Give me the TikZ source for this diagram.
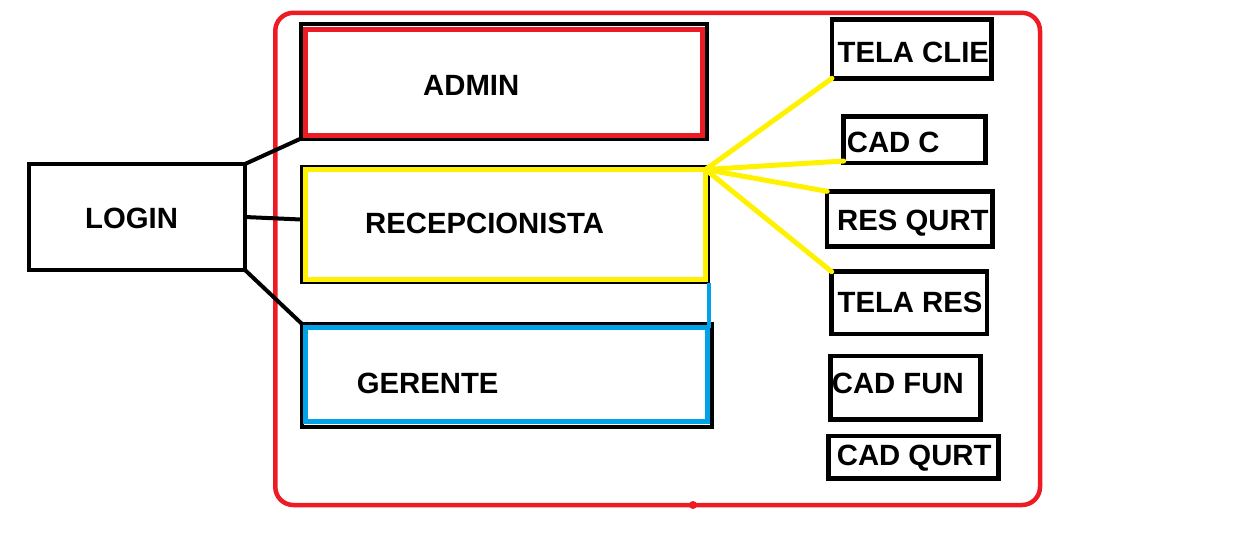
\documentclass[tikz,border=0pt]{standalone}
\usepackage{fontspec}
\setmainfont{Liberation Sans}
\begin{document}
\begin{tikzpicture}[x=1pt,y=-1pt,
  box/.style={draw,rectangle,inner sep=0pt,outer sep=0pt,minimum width=#1},
  lbl/.style={anchor=base west,inner sep=0pt,font=\fontsize{29.3}{31}\selectfont\bfseries},
  link/.style={line width=4pt},
  ylink/.style={draw=pyellow,line width=5pt}]
\definecolor{pred}{HTML}{ED1C24}
\definecolor{pyellow}{HTML}{FFF200}
\definecolor{pblue}{HTML}{00A2E8}
\useasboundingbox (0,0) rectangle (1253,555);
% outer frame
\draw[pred,line width=4.5pt,rounded corners=18pt] (275.3,12.8) rectangle (1040,505);
\fill[pred] (693,505) circle (4pt);
% login
\node[box=216pt,minimum height=106pt,line width=4pt] (login) at (137,217) {};
\node[lbl] (tlogin) at (85,228) {LOGIN};
% admin
\node[box=405.5pt,minimum height=114.5pt,line width=4pt] (adminK) at (503.75,81.25) {};
\node[box=397pt,minimum height=106pt,line width=5pt,draw=pred] (adminR) at (504,82) {};
\node[lbl] (tadmin) at (423,95) {ADMIN};
% recepcionista
\node[box=407pt,minimum height=116pt,line width=3pt] (recepK) at (504.5,224.5) {};
\node[box=400pt,minimum height=109.5pt,line width=5pt,draw=pyellow] (recepY) at (505.5,224.25) {};
\node[lbl] (trecep) at (365,233) {RECEPCIONISTA};
% gerente
\node[box=410pt,minimum height=103.5pt,line width=4pt] (gerK) at (506.5,375.25) {};
\node[box=402pt,minimum height=94pt,line width=5pt,draw=pblue] (gerB) at (506.5,374.5) {};
\node[lbl] (tger) at (356.7,393) {GERENTE};
% right boxes
\tikzset{sbox/.style={draw,rectangle,inner sep=0pt,outer sep=0pt,line width=4.5pt}}
\node[sbox,minimum width=159.3pt,minimum height=58.8pt] (telaclie) at (911.65,48.9) {};
\node[lbl] (ttelaclie) at (837.4,62) {TELA CLIE};
\node[sbox,minimum width=141.6pt,minimum height=46.7pt] (cadc) at (914.5,139.65) {};
\node[lbl] (tcadc) at (846.7,152) {CAD C};
\node[sbox,minimum width=165.3pt,minimum height=55pt] (resqurt) at (909.85,218.8) {};
\node[lbl] (tresqurt) at (837,230) {RES QURT};
\node[sbox,minimum width=155.5pt,minimum height=62.1pt] (telares) at (909.45,302.75) {};
\node[lbl] (ttelares) at (837.4,312) {TELA RES};
\node[sbox,minimum width=150pt,minimum height=63.3pt] (cadfun) at (905.5,387.85) {};
\node[lbl] (tcadfun) at (831.7,393) {CAD FUN};
\node[sbox,minimum width=170pt,minimum height=42.1pt] (cadqurt) at (913.3,457.25) {};
\node[lbl] (tcadqurt) at (836.7,465) {CAD QURT};
% black connectors
\draw[link] (login.north east) -- (adminK.south west);
\draw[link] (login.east) -- ([yshift=5pt]recepK.west);
\draw[link] (login.south east) -- (gerK.north west);
% blue connector
\draw[draw=pblue,line width=4pt] ([xshift=1pt]recepK.south east) -- ([xshift=1pt]recepK.south east |- gerB.north);
% yellow connectors
\draw[ylink,line cap=round] (recepY.north east) -- (telaclie.south west);
\draw[ylink,line cap=round] (recepY.north east) -- ([yshift=2pt]cadc.south west);
\draw[ylink,line cap=round] (recepY.north east) -- (resqurt.north west);
\draw[ylink,line cap=round] (recepY.north east) -- (telares.north west);
\end{tikzpicture}
\end{document}
